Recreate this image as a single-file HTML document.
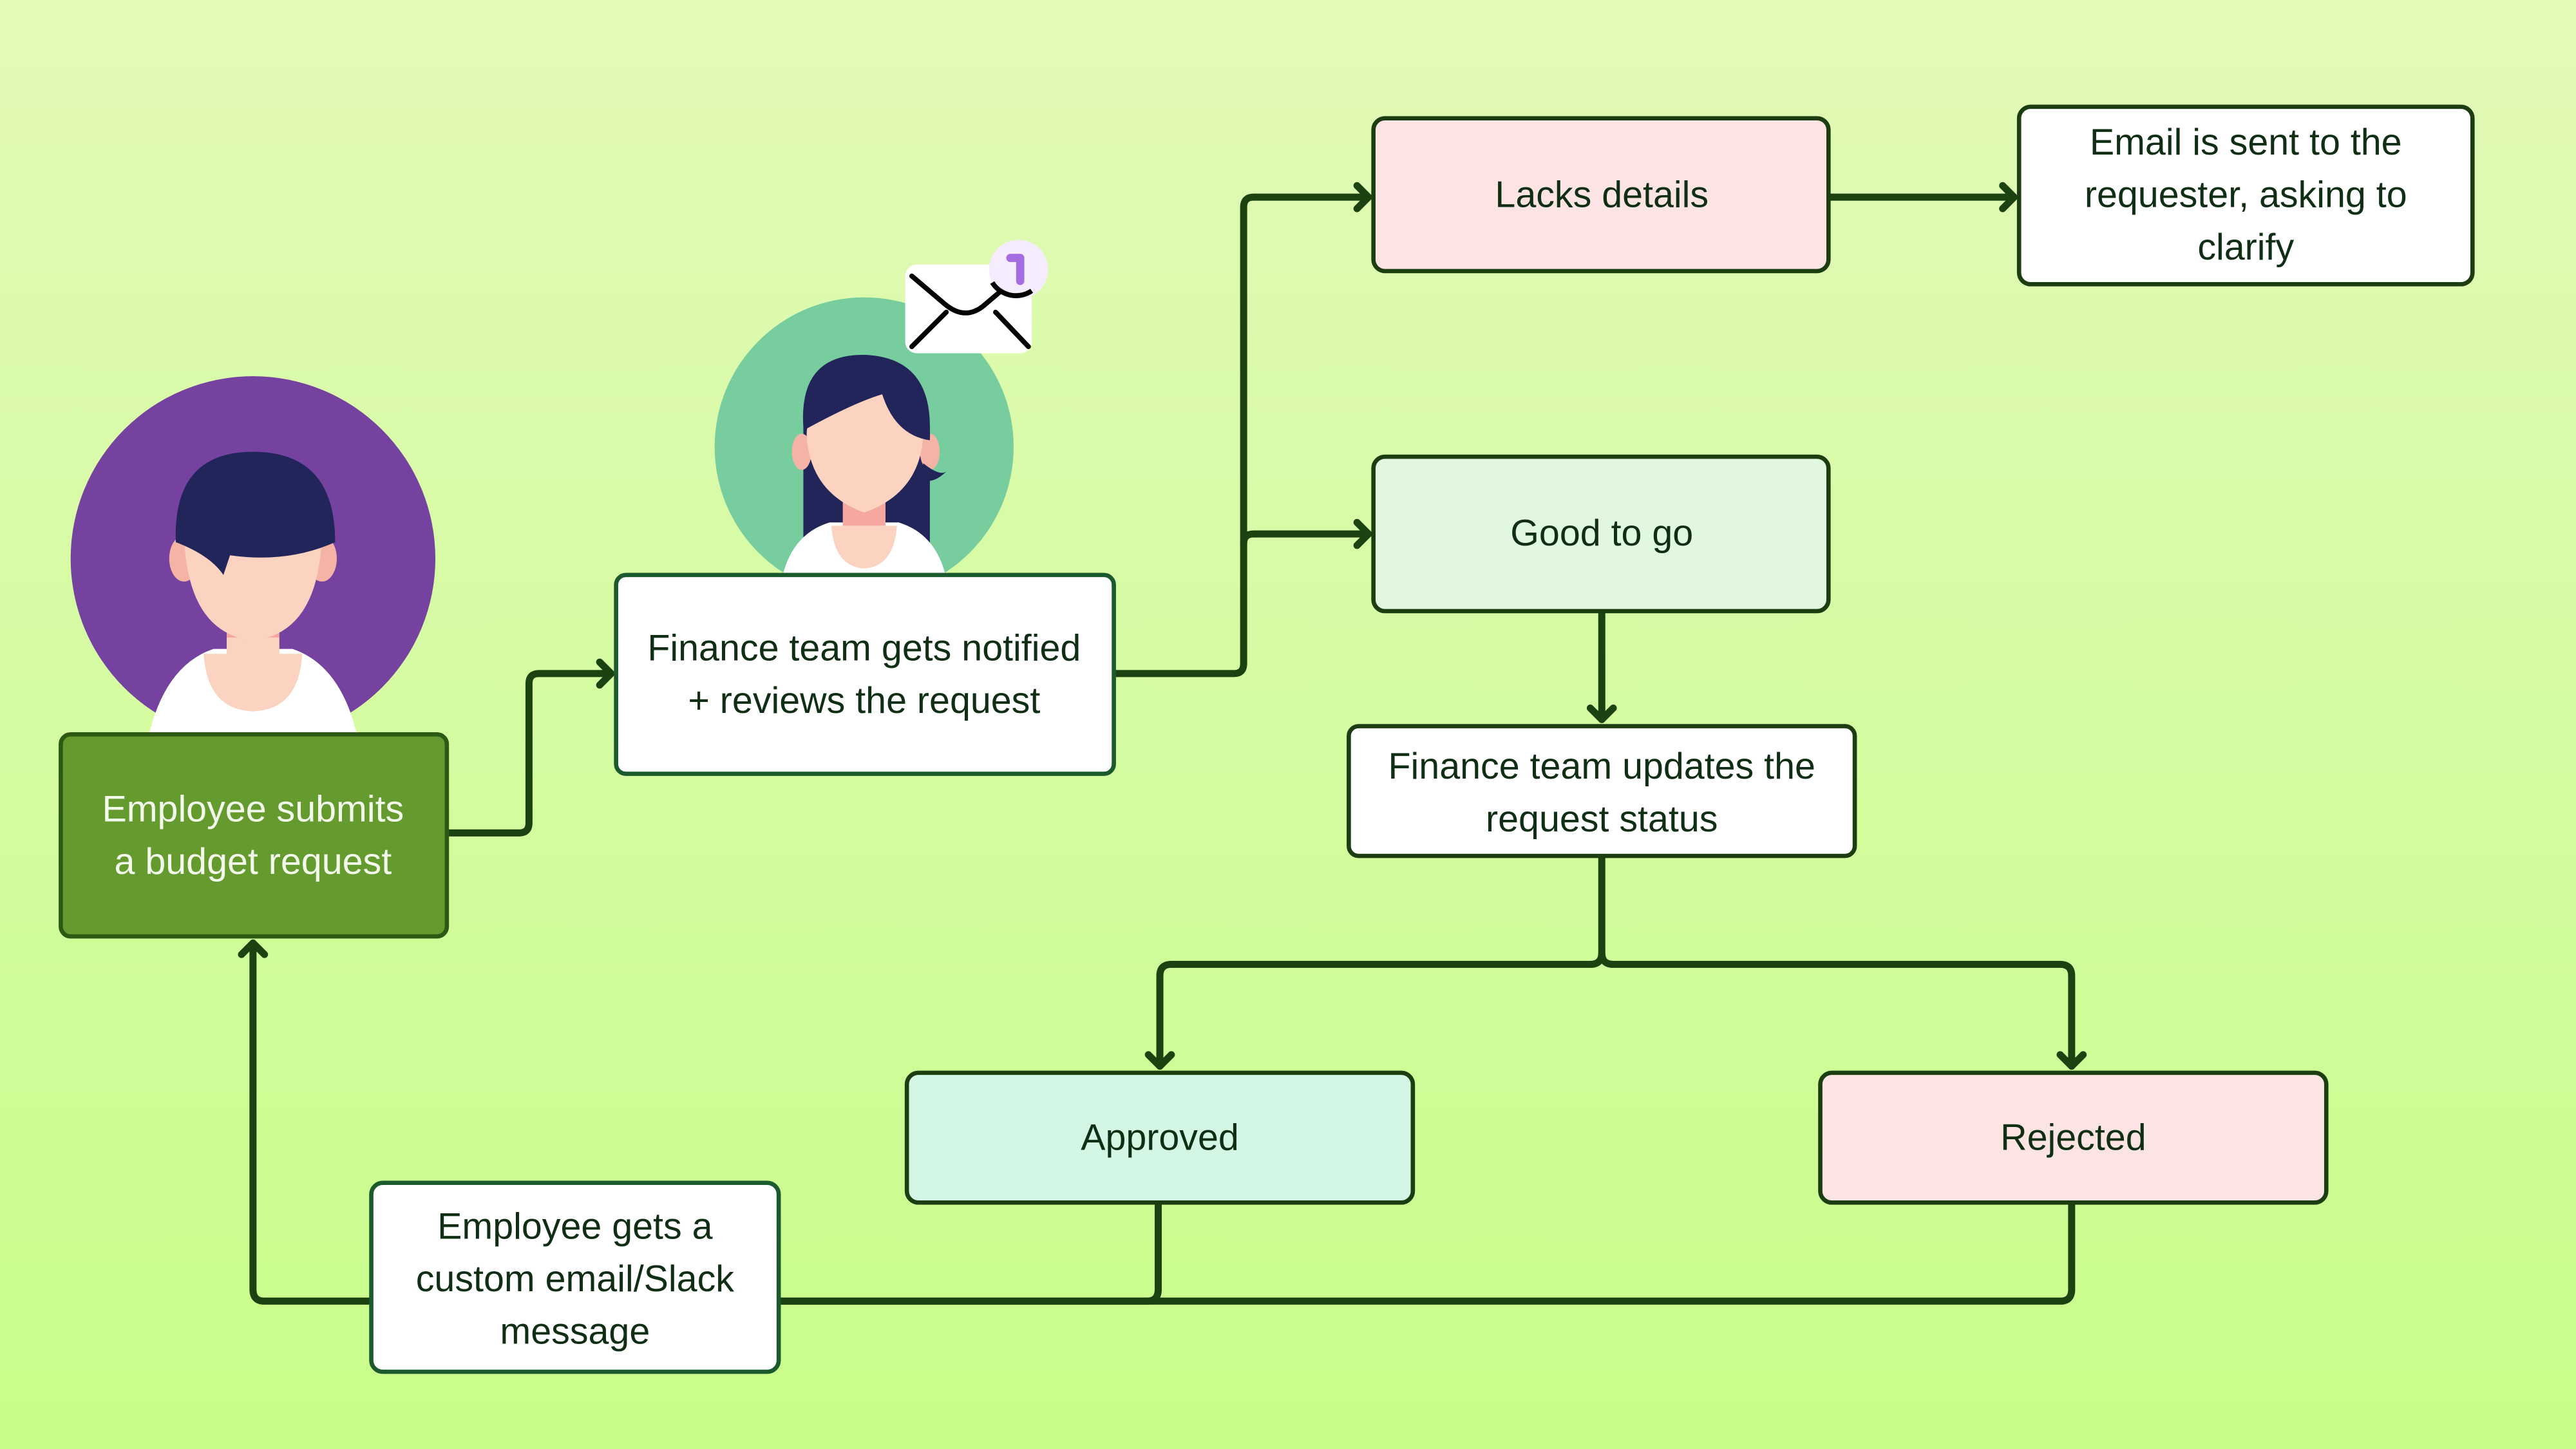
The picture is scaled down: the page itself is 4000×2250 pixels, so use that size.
<!DOCTYPE html>
<html><head><meta charset="utf-8"><style>
html,body{margin:0;padding:0;width:4000px;height:2250px;overflow:hidden}
svg{display:block}
text{font-family:"Liberation Sans",sans-serif;font-size:22.5px;fill:#0f2e14;text-anchor:middle}
</style></head><body>
<svg width="4000" height="2250" viewBox="0 0 1568 882" xmlns="http://www.w3.org/2000/svg">
<defs>
<linearGradient id="bg" x1="0" y1="0" x2="0" y2="1">
<stop offset="0" stop-color="#e2fab8"/><stop offset="1" stop-color="#c8fd8a"/></linearGradient>
<clipPath id="c1b"><rect x="0" y="0" width="400" height="447"/></clipPath>
<clipPath id="c2b"><rect x="380" y="100" width="300" height="250"/></clipPath>
</defs>
<rect width="1568" height="882" fill="url(#bg)"/>

<!-- person 1 -->
<circle cx="154" cy="340" r="111" fill="#7642a0"/>
<g clip-path="url(#c1b)">
<path d="M90 450 Q100 405 130 395 L178 395 Q208 405 218 450Z" fill="#fff"/>
<rect x="138" y="370" width="32" height="30" fill="#f5a7a0"/>
<path d="M124 398 Q126 432 154 433 Q182 432 184 398Z" fill="#fbd3c0"/>
<rect x="138" y="388" width="32" height="12" fill="#fbd3c0"/>
<rect x="138" y="378" width="32" height="10" fill="#f5a7a0"/>
<ellipse cx="112" cy="340" rx="9" ry="14" fill="#f5b3a5"/>
<ellipse cx="196" cy="340" rx="9" ry="14" fill="#f5b3a5"/>
<path d="M112 320 Q112 385 154 390 Q196 385 196 320 Q196 300 154 300 Q112 300 112 320Z" fill="#fbd3c0"/>
<path d="M107 330 Q105 275 154 275 Q204 275 204 330 Q175 343 140 338 L136 350 Q128 338 107 330Z" fill="#22255a"/>
</g>

<!-- person 2 -->
<circle cx="526" cy="272" r="91" fill="#78cd9f"/>
<g clip-path="url(#c2b)">
<path d="M489 260 Q486 215 527 216 Q567 218 566 262 L566 350 L489 350Z" fill="#22255a"/>
<path d="M476 352 Q482 325 505 318 L547 318 Q570 325 576 352Z" fill="#fff"/>
<path d="M506 320 Q508 345 526 346 Q544 345 546 320Z" fill="#fbd3c0"/>
<rect x="513" y="303" width="26" height="17" fill="#f5a7a0"/>
<ellipse cx="488" cy="275" rx="6" ry="11" fill="#f5b3a5"/>
<ellipse cx="566" cy="275" rx="6" ry="11" fill="#f5b3a5"/>
<path d="M491 265 Q491 240 526 238 Q562 240 562 265 Q560 300 526 312 Q493 300 491 265Z" fill="#fbd3c0"/>
<path d="M489 262 Q490 222 528 222 Q568 225 566 268 Q545 265 537 240 Q520 245 489 262Z" fill="#22255a"/>
<path d="M562 282 Q572 290 576 287 Q568 295 560 292Z" fill="#22255a"/>
</g>

<!-- envelope -->
<rect x="551" y="161" width="77" height="54" rx="7" fill="#fff"/>
<g stroke="#000" stroke-width="3" fill="none" stroke-linecap="round">
<path d="M555 168 L575 185 Q588 196 600 185 L620 168"/>
<path d="M555 211 L576 190 M606 190 L626 211"/>
</g>
<circle cx="620" cy="164" r="18" fill="#f6ecff"/>
<path d="M604 172 A17 17 0 0 0 628 177" stroke="#000" stroke-width="3" fill="none"/>
<path d="M615 157 L621 157 L621 171" stroke="#a56ee0" stroke-width="5" stroke-linecap="round" stroke-linejoin="round" fill="none"/>

<!-- connectors -->
<g stroke="#1b4210" stroke-width="4.3" fill="none" stroke-linecap="round" stroke-linejoin="round">
<path d="M272 507 H316 Q322 507 322 501 V416 Q322 410 328 410 H371"/>
<path d="M365 403 L372 410 L365 417"/>
<path d="M678 410 H751 Q757 410 757 404 V126 Q757 120 763 120 H832"/>
<path d="M757 331 Q757 325 763 325 H832"/>
<path d="M826 113 L833 120 L826 127 M826 318 L833 325 L826 332"/>
<path d="M1113 120 H1225 M1219 113 L1226 120 L1219 127"/>
<path d="M975 372 V438 M968 431 L975 438 L982 431"/>
<path d="M975 521 V580 Q975 587 968 587 H713 Q706 587 706 594 V649 M699 642 L706 649 L713 642"/>
<path d="M975 580 Q975 587 982 587 H1254 Q1261 587 1261 594 V649 M1254 642 L1261 649 L1268 642"/>
<path d="M705 732 V785 Q705 792 698 792 H474"/>
<path d="M1261 732 V785 Q1261 792 1254 792 H474"/>
<path d="M226 792 H161 Q154 792 154 785 V574 M147 581 L154 574 L161 581"/>
</g>

<!-- boxes -->
<g stroke-width="2.6">
<rect x="37" y="447" width="235" height="123" rx="6" fill="#659a2f" stroke="#2c5a14"/>
<rect x="375" y="350" width="303" height="121" rx="6" fill="#fff" stroke="#1b5a2c"/>
<rect x="836" y="72" width="277" height="93" rx="7" fill="#fde4e4" stroke="#1b3d10"/>
<rect x="1229" y="65" width="276" height="108" rx="7" fill="#fff" stroke="#1b3d10"/>
<rect x="836" y="278" width="277" height="94" rx="7" fill="#e1f7df" stroke="#1b3d10"/>
<rect x="821" y="442" width="308" height="79" rx="6" fill="#fff" stroke="#1b3d10"/>
<rect x="552" y="653" width="308" height="79" rx="7" fill="#d3f7e4" stroke="#1b3d10"/>
<rect x="1108" y="653" width="308" height="79" rx="7" fill="#fde4e4" stroke="#1b3d10"/>
<rect x="226" y="720" width="248" height="115" rx="7" fill="#fff" stroke="#1b5a2c"/>
</g>

<text x="154" y="500" style="fill:#f2f8ea">Employee submits</text>
<text x="154" y="532" style="fill:#f2f8ea">a budget request</text>
<text x="526" y="402">Finance team gets notified</text>
<text x="526" y="434">+ reviews the request</text>
<text x="975" y="126">Lacks details</text>
<text x="1367" y="94">Email is sent to the</text>
<text x="1367" y="126">requester, asking to</text>
<text x="1367" y="158">clarify</text>
<text x="975" y="332">Good to go</text>
<text x="975" y="474">Finance team updates the</text>
<text x="975" y="506">request status</text>
<text x="706" y="700">Approved</text>
<text x="1262" y="700">Rejected</text>
<text x="350" y="754">Employee gets a</text>
<text x="350" y="786">custom email/Slack</text>
<text x="350" y="818">message</text>
</svg>
</body></html>
